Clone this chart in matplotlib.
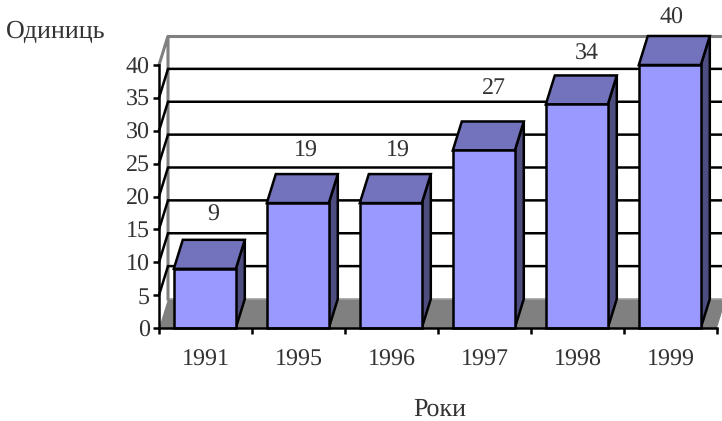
import matplotlib
matplotlib.use("Agg")
import matplotlib.pyplot as plt
from matplotlib.patches import Polygon

plt.rcParams['font.family'] = ['Liberation Serif', 'DejaVu Serif']
plt.rcParams['text.hinting'] = 'no_hinting'
plt.rcParams['text.hinting_factor'] = 1

years = ['1991', '1995', '1996', '1997', '1998', '1999']
values = [9, 19, 19, 27, 34, 40]
y_ticks = [0, 5, 10, 15, 20, 25, 30, 35, 40]
y_label = 'Одиниць'
x_label = 'Роки'
# label shift from the bar's back-top centre, in pixels
label_dx = [-1, -2, -3, 0, 0, -8]
label_dy = [25, 23, 23, 33, 21, 18]

W, H = 722, 421
L, R, T, B = 159, 717, 65, 328
fig = plt.figure(figsize=(W / 100, H / 100), dpi=100)
ax = fig.add_axes([L / W, 1 - B / H, (R - L) / W, (B - T) / H])
ax.set_xlim(0, len(years))
ax.set_ylim(0, 40)
ax.patch.set_visible(False)

px_x = len(years) / (R - L)
px_y = 40 / (B - T)
dx = 9 * px_x
dy = 29 * px_y
lw = 1.8
FS = 17.2
TEXT = '#333333'
n = len(years)

# floor
ax.add_patch(Polygon([(0, 0), (dx, dy), (n + dx, dy), (n, 0)], fc='#808080', ec='none',
                     clip_on=False, zorder=1))
ax.plot([dx, n + dx], [dy, dy], color='#a0a0a0', lw=1.2, clip_on=False, zorder=1.1)

# walls and grid
ax.plot([0, dx, dx], [40, 40 + dy, dy], color='#808080', lw=2.2, clip_on=False, zorder=1.2,
        solid_joinstyle='miter')
ax.plot([dx, n + dx], [40 + dy, 40 + dy], color='#808080', lw=2.2, clip_on=False, zorder=1.2)
for v in y_ticks[1:-1]:
    ax.plot([0, dx, n + dx], [v, v + dy, v + dy], color='black', lw=lw, clip_on=False, zorder=1.3,
            solid_joinstyle='miter')

# bars
bw = 62 / 93
shift = -0.7 * px_x
for i, v in enumerate(values):
    c = i + 0.5 + shift
    x0, x1 = c - bw / 2, c + bw / 2
    ax.add_patch(Polygon([(x1, 0), (x1 + dx, dy), (x1 + dx, v + dy), (x1, v)], fc='#4d4d80',
                         ec='black', lw=lw, clip_on=False, zorder=3, joinstyle='miter'))
    ax.add_patch(Polygon([(x0, v), (x0 + dx, v + dy), (x1 + dx, v + dy), (x1, v)], fc='#7373bd',
                         ec='black', lw=lw, clip_on=False, zorder=3, joinstyle='miter'))
    ax.bar(c, v, width=bw, color='#9999ff', edgecolor='black', linewidth=lw, zorder=4,
           clip_on=False)
    ax.text(i + 0.5 + dx + label_dx[i] * px_x, v + dy + label_dy[i] * px_y, str(v), ha='center',
            va='center', fontsize=FS, color=TEXT, clip_on=False, zorder=5)

# axes
for s in ('top', 'right'):
    ax.spines[s].set_visible(False)
for s in ('left', 'bottom'):
    ax.spines[s].set_linewidth(lw)
    ax.spines[s].set_zorder(6)
ax.set_yticks(y_ticks)
ax.set_yticklabels([str(v) for v in y_ticks])
ax.set_xticks(range(n + 1))
ax.set_xticklabels([''] * (n + 1))
ax.tick_params(axis='y', length=4, width=lw, pad=2.5, labelsize=FS, labelcolor=TEXT)
ax.tick_params(axis='x', length=4.5, width=lw, labelcolor=TEXT)
for i, year in enumerate(years):
    ax.text(i + 0.5, -32 * px_y, year, ha='center', va='center', fontsize=FS, color=TEXT,
            clip_on=False)

fig.text(6 / W, 1 - 32 / H, y_label, ha='left', va='center', fontsize=19, color=TEXT)
fig.text(440 / W, 1 - 409 / H, x_label, ha='center', va='center', fontsize=18.5, color=TEXT)

fig.savefig('out.png', dpi=100)
